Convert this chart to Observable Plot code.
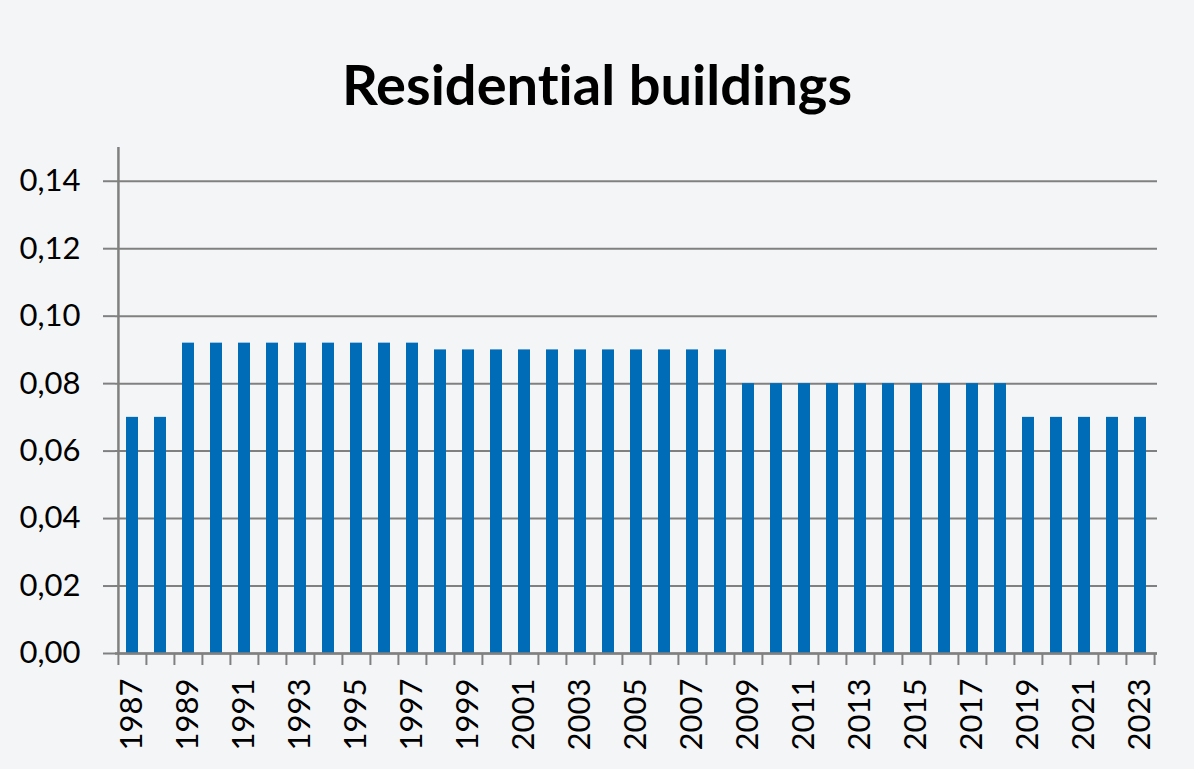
<!DOCTYPE html>
<html><head><meta charset="utf-8">
<script src="https://cdn.jsdelivr.net/npm/d3@7"></script>
<script src="https://cdn.jsdelivr.net/npm/@observablehq/plot@0.6"></script>
<style>
html,body{margin:0;padding:0;background:#f4f5f7;}
#title{width:1194px;height:130px;box-sizing:border-box;padding-top:56px;font:bold 56px/56px Lato,sans-serif;text-align:center;color:#000;font-variant-ligatures:none;font-feature-settings:"liga" 0;}
#chart svg{display:block}
</style></head><body>
<div id="title">Residential buildings</div>
<div id="chart"></div>
<script>
const years = ["1987","1988","1989","1990","1991","1992","1993","1994","1995","1996","1997","1998","1999","2000","2001","2002","2003","2004","2005","2006","2007","2008","2009","2010","2011","2012","2013","2014","2015","2016","2017","2018","2019","2020","2021","2022","2023"];
const values = [0.07,0.07,0.092,0.092,0.092,0.092,0.092,0.092,0.092,0.092,0.092,0.09,0.09,0.09,0.09,0.09,0.09,0.09,0.09,0.09,0.09,0.09,0.08,0.08,0.08,0.08,0.08,0.08,0.08,0.08,0.08,0.08,0.07,0.07,0.07,0.07,0.07];
const labelYears = ["1987","1989","1991","1993","1995","1997","1999","2001","2003","2005","2007","2009","2011","2013","2015","2017","2019","2021","2023"];
const yTicks = [0,0.02,0.04,0.06,0.08,0.10,0.12,0.14];
const yDomain = [0,0.15];

const data = years.map((y,i)=>({year:y, value:values[i]}));
const W=1194, H=639, mL=115, mR=37, mT=17, mB=116;
const step=(W-mL-mR)/years.length;
const gray="#808080";
const fmt = d => d.toFixed(2).replace(".", ",");

const chart = Plot.plot({
  width:W, height:H, marginLeft:mL, marginRight:mR, marginTop:mT, marginBottom:mB,
  style:{background:"transparent", fontFamily:"Lato, sans-serif", fontSize:"31px", color:"#000"},
  x:{type:"band", domain:years, paddingInner:0.57, paddingOuter:0.285, align:0.5, axis:null, label:null},
  y:{domain:yDomain, axis:null, label:null},
  marks:[
    Plot.gridY(yTicks,{stroke:gray, strokeOpacity:1, strokeWidth:2}),
    Plot.axisY({ticks:yTicks, tickSize:12, tickPadding:23, tickFormat:fmt, stroke:gray, strokeWidth:2, fill:"#000", fontSize:31, label:null}),
    Plot.barY(data,{x:"year", y:"value", fill:"#006CB7"}),
    Plot.ruleY([0],{stroke:gray, strokeWidth:2.5}),
    Plot.ruleX([years[0]],{x:d=>d, dx:-step/2, y1:yDomain[0], y2:yDomain[1], stroke:gray, strokeWidth:2.5}),
    Plot.axisX({ticks:years, tickSize:12, tickFormat:()=>"", dx:-step/2, stroke:gray, strokeWidth:2, label:null}),
    Plot.axisX({ticks:[years[years.length-1]], tickSize:12, tickFormat:()=>"", dx:step/2, stroke:gray, strokeWidth:2, label:null}),
    Plot.axisX({ticks:labelYears, tickSize:0, tickPadding:25, tickRotate:-90, fill:"#000", fontSize:31, label:null})
  ]
});
document.getElementById("chart").appendChild(chart);
</script>
</body></html>
